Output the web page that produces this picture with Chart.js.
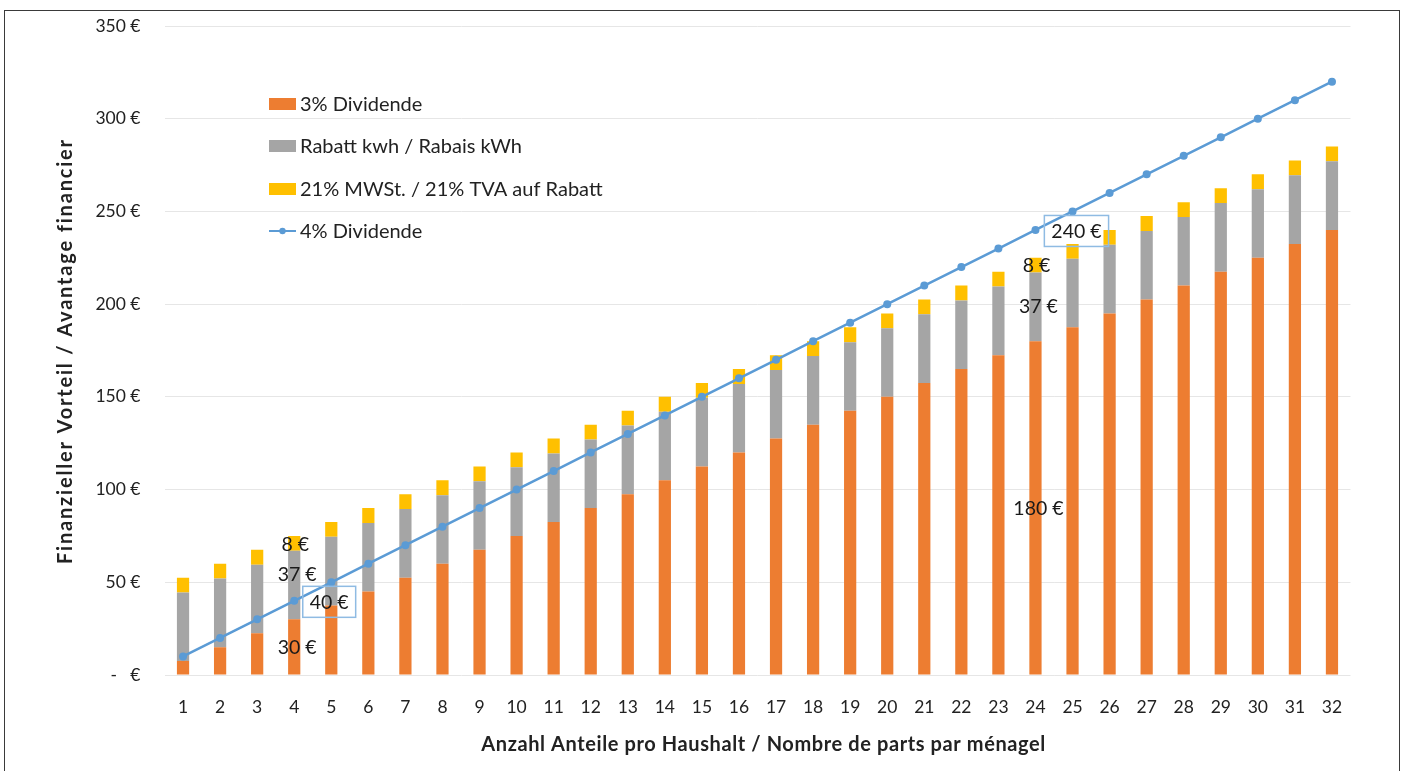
<!DOCTYPE html>
<html>
<head>
<meta charset="utf-8">
<script src="https://cdn.jsdelivr.net/npm/chart.js@4/dist/chart.umd.min.js"></script>
<style>
  html, body { margin: 0; padding: 0; background: #fff; overflow: hidden; }
  #wrap { position: relative; width: 1405px; height: 771px; }
  #frame { position: absolute; left: 4px; top: 10px; width: 1394px; height: 800px;
           border: 1.5px solid #3a3a3a; pointer-events: none; }
  canvas { display: block; }
</style>
</head>
<body>
<div id="wrap">
  <canvas id="c" width="1405" height="771"></canvas>
  <div id="frame"></div>
</div>
<script>
// Number of shares per household
const categories = ['1','2','3','4','5','6','7','8','9','10','11','12','13','14','15','16',
                    '17','18','19','20','21','22','23','24','25','26','27','28','29','30','31','32'];

// 3% dividend (€)
const dividend3 = [7.5, 15, 22.5, 30, 37.5, 45, 52.5, 60, 67.5, 75, 82.5, 90, 97.5, 105, 112.5, 120,
                   127.5, 135, 142.5, 150, 157.5, 165, 172.5, 180, 187.5, 195, 202.5, 210, 217.5, 225, 232.5, 240];

// kWh discount (€)
const rabatt = [37, 37, 37, 37, 37, 37, 37, 37, 37, 37, 37, 37, 37, 37, 37, 37,
                37, 37, 37, 37, 37, 37, 37, 37, 37, 37, 37, 37, 37, 37, 37, 37];

// 21% VAT on the discount (€)
const mwst = [8, 8, 8, 8, 8, 8, 8, 8, 8, 8, 8, 8, 8, 8, 8, 8,
              8, 8, 8, 8, 8, 8, 8, 8, 8, 8, 8, 8, 8, 8, 8, 8];

// 4% dividend (€)
const dividend4 = [10, 20, 30, 40, 50, 60, 70, 80, 90, 100, 110, 120, 130, 140, 150, 160,
                   170, 180, 190, 200, 210, 220, 230, 240, 250, 260, 270, 280, 290, 300, 310, 320];

const seriesNames = ['3% Dividende', 'Rabatt kwh / Rabais kWh', '21% MWSt. / 21% TVA auf Rabatt', '4% Dividende'];
const yTicks = [0, 50, 100, 150, 200, 250, 300, 350];

const COLORS = { orange: '#ed7d31', gray: '#a5a5a5', yellow: '#ffc000', blue: '#5b9bd5' };
const FONT = 'Lato, "Open Sans", sans-serif';
const TEXT = '#222222';

// Value callouts drawn at selected share counts
const callouts = [4, 24];

// Draws text stretched with letter spacing so it spans the given width
function fitText(ctx, text, x, y, width) {
  ctx.letterSpacing = '0px';
  const w0 = ctx.measureText(text).width;
  const extra = Math.max(0, (width - w0) / Math.max(1, text.length - 1));
  ctx.letterSpacing = extra.toFixed(2) + 'px';
  ctx.fillText(text, x + extra / 2, y);
  ctx.letterSpacing = '0px';
}

const legendPlugin = {
  id: 'insideLegend',
  afterDraw(chart) {
    const ctx = chart.ctx;
    const x0 = 269, sw = 27, tx = 300;
    const ys = [104, 146, 189, 231];
    const cols = [COLORS.orange, COLORS.gray, COLORS.yellow, COLORS.blue];
    ctx.save();
    ctx.font = '20px ' + FONT;
    ctx.textBaseline = 'middle';
    ctx.textAlign = 'left';
    seriesNames.forEach((name, i) => {
      const y = ys[i];
      if (i < 3) {
        ctx.fillStyle = cols[i];
        ctx.fillRect(x0, y - 6, sw, 12);
      } else {
        ctx.strokeStyle = cols[i];
        ctx.lineWidth = 2;
        ctx.beginPath(); ctx.moveTo(x0, y); ctx.lineTo(x0 + sw, y); ctx.stroke();
        ctx.fillStyle = cols[i];
        ctx.beginPath(); ctx.arc(x0 + sw / 2, y, 3.2, 0, Math.PI * 2); ctx.fill();
      }
      ctx.fillStyle = TEXT;
      ctx.fillText(name, tx, y + 1);
    });
    ctx.restore();
  }
};

const calloutPlugin = {
  id: 'callouts',
  afterDatasetsDraw(chart) {
    const ctx = chart.ctx;
    const xs = chart.scales.x, ys = chart.scales.y;
    ctx.save();
    ctx.font = '19.5px ' + FONT;
    ctx.fillStyle = '#1a1a1a';
    ctx.textAlign = 'center';
    ctx.textBaseline = 'middle';
    callouts.forEach(n => {
      const i = n - 1;
      const cx = xs.getPixelForValue(i);
      const d3 = dividend3[i], r = rabatt[i], m = mwst[i], d4 = dividend4[i];
      const fmt = v => v + ' €';
      ctx.fillText(fmt(m), cx + 1, ys.getPixelForValue(d3 + r + m / 2) + 1);
      const rOff = n === 4 ? -10 : 0;
      ctx.fillText(fmt(r), cx + 3, ys.getPixelForValue(d3 + r / 2) + rOff);
      ctx.fillText(fmt(d3), cx + 3, ys.getPixelForValue(d3 / 2) + 1);
      // boxed label for the 4% dividend point
      const label = fmt(d4);
      const w = ctx.measureText(label).width + 14;
      const h = 31;
      const bx = cx + (n === 4 ? 35 : 41);
      const by = ys.getPixelForValue(d4) + 1;
      ctx.strokeStyle = '#8fbbe3';
      ctx.lineWidth = 1.5;
      ctx.strokeRect(bx - w / 2, by - h / 2, w, h);
      ctx.fillText(label, bx, by + 1);
    });
    ctx.restore();
  }
};

const titlePlugin = {
  id: 'axisTitles',
  afterDraw(chart) {
    const ctx = chart.ctx;
    ctx.save();
    ctx.font = 'bold 20px ' + FONT;
    ctx.fillStyle = TEXT;
    ctx.textAlign = 'left';
    ctx.textBaseline = 'middle';
    fitText(ctx, 'Anzahl Anteile pro Haushalt / Nombre de parts par ménagel', 481, 745, 564);
    ctx.translate(66, 565);
    ctx.rotate(-Math.PI / 2);
    fitText(ctx, 'Finanzieller Vorteil / Avantage financier', 0, 0, 424);
    ctx.restore();
  }
};

new Chart(document.getElementById('c'), {
  data: {
    labels: categories,
    datasets: [
      {
        type: 'line', label: seriesNames[3], data: dividend4, stack: 'line', order: 0,
        borderColor: COLORS.blue, backgroundColor: COLORS.blue, borderWidth: 2.5,
        pointRadius: 4, pointBackgroundColor: COLORS.blue, pointBorderWidth: 0, tension: 0
      },
      { type: 'bar', label: seriesNames[0], data: dividend3, backgroundColor: COLORS.orange, stack: 'bars', order: 1 },
      { type: 'bar', label: seriesNames[1], data: rabatt, backgroundColor: COLORS.gray, stack: 'bars', order: 1 },
      { type: 'bar', label: seriesNames[2], data: mwst, backgroundColor: COLORS.yellow, stack: 'bars', order: 1 }
    ]
  },
  options: {
    responsive: false,
    animation: false,
    events: [],
    layout: { padding: { left: 0, right: 54.5, top: 26, bottom: 0 } },
    datasets: { bar: { barPercentage: 0.33, categoryPercentage: 1 } },
    plugins: { legend: { display: false }, tooltip: { enabled: false } },
    scales: {
      x: {
        stacked: true,
        grid: { display: false },
        border: { display: false },
        ticks: { color: TEXT, font: { family: FONT, size: 17.5 }, padding: 14, maxRotation: 0, autoSkip: false },
        afterFit: s => { s.height = 96; s.paddingLeft = 0; s.paddingRight = 0; }
      },
      y: {
        stacked: true,
        min: 0, max: 350,
        afterBuildTicks: s => { s.ticks = yTicks.map(v => ({ value: v })); },
        grid: { color: '#e6e6e6', lineWidth: 1, drawTicks: false },
        border: { display: false },
        ticks: {
          color: TEXT, font: { family: FONT, size: 17.5 }, padding: 24,
          callback: v => v === 0 ? '-   €' : v + ' €'
        },
        afterFit: s => { s.width = 164.5; s.paddingTop = 0; s.paddingBottom = 0; }
      }
    }
  },
  plugins: [calloutPlugin, legendPlugin, titlePlugin]
});
</script>
</body>
</html>
